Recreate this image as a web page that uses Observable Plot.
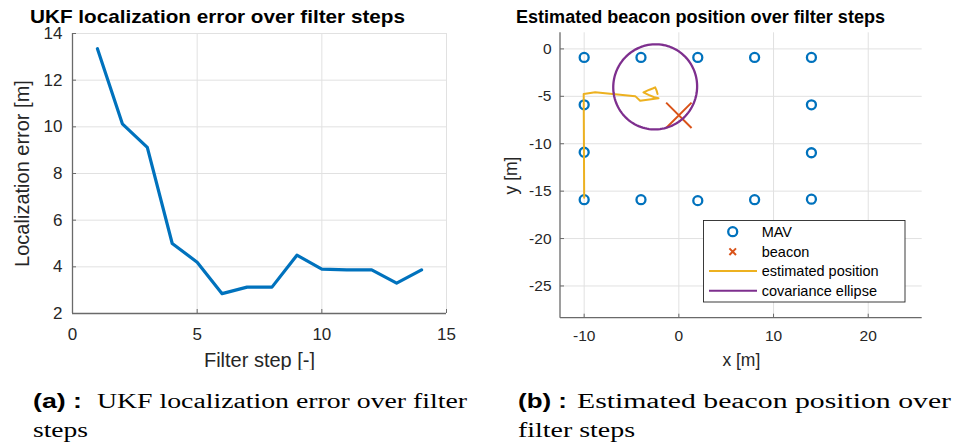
<!DOCTYPE html>
<html>
<head>
<meta charset="utf-8">
<script src="https://cdn.jsdelivr.net/npm/d3@7"></script>
<script src="https://cdn.jsdelivr.net/npm/@observablehq/plot@0.6"></script>
<style>
  html, body { margin: 0; padding: 0; background: #fff; }
  #wrap { position: relative; width: 953px; height: 447px; overflow: hidden; background: #fff; }
  #left, #right, #overlay { position: absolute; top: 0; }
  #left { left: 0; }
  #right { left: 480px; }
  #overlay { left: 0; pointer-events: none; }
</style>
</head>
<body>
<div id="wrap">
  <div id="left"></div>
  <div id="right"></div>
  <svg id="overlay" width="953" height="447"></svg>
</div>
<script>
// ---------- data: panel (a) ----------
const steps = [1, 2, 3, 4, 5, 6, 7, 8, 9, 10, 11, 12, 13, 14];
const errors = [13.35, 10.13, 9.12, 5.0, 4.2, 2.85, 3.13, 3.13, 4.5, 3.9, 3.87, 3.87, 3.3, 3.87];
const xTicksA = [0, 5, 10, 15];
const yTicksA = [2, 4, 6, 8, 10, 12, 14];

// ---------- data: panel (b) ----------
const mavX = [-10, -4, 2, 8, 14, -10, 14, -10, 14, -10, -4, 2, 8, 14];
const mavY = [-0.9, -0.9, -0.9, -0.9, -0.9, -5.9, -5.9, -10.9, -10.95, -15.9, -15.9, -16.0, -15.9, -15.85];
const beaconX = [0];
const beaconY = [-7];
const estX = [-10, -10.05, -8.84, -4.61, -4.09, -2.15, -2.6, -3.2, -3.74, -3.1, -2.7, -2.5, -2.35, -2.25];
const estY = [-15.7, -4.75, -4.58, -4.98, -5.46, -5.21, -5.1, -4.85, -4.58, -4.3, -4.15, -4.05, -4.4, -4.75];
// covariance ellipse parameters
const ellCenter = [-2.5, -4.0];
const ellSemiAxes = [4.5, 4.42];
const ellAngleDeg = 70;
const xTicksB = [-10, 0, 10, 20];
const yTicksB = [0, -5, -10, -15, -20, -25];
const legendLabels = ["MAV", "beacon", "estimated position", "covariance ellipse"];

// colours
const C_BLUE = "#0072BD", C_ORANGE = "#D95319", C_YELLOW = "#EDB120", C_PURPLE = "#7E2F8E";
const AXIS = "#6a6a6a", GRID = "#e1e1e1", TXT = "#262626";

// ---------- panel (a) ----------
const dataA = steps.map((s, i) => ({step: s, err: errors[i]}));
const plotA = Plot.plot({
  width: 470, height: 370,
  marginLeft: 72, marginRight: 24, marginTop: 33, marginBottom: 57,
  style: {fontFamily: "'Liberation Sans', Arial, sans-serif", fontSize: "17px", color: TXT, background: "transparent"},
  x: {domain: [0, 15]},
  y: {domain: [2, 14]},
  marks: [
    Plot.gridX(xTicksA, {stroke: GRID, strokeOpacity: 1, strokeWidth: 1}),
    Plot.gridY(yTicksA, {stroke: GRID, strokeOpacity: 1, strokeWidth: 1}),
    Plot.ruleX([xTicksA[0]], {stroke: AXIS, strokeWidth: 1.3}),
    Plot.ruleY([yTicksA[0]], {stroke: AXIS, strokeWidth: 1.3}),
    Plot.axisX(xTicksA, {tickSize: -4, tickPadding: 18, stroke: AXIS, fill: TXT, label: "Filter step [-]", labelAnchor: "center", labelOffset: 53, labelArrow: "none"}),
    Plot.axisY(yTicksA, {tickSize: -4, tickPadding: 14, stroke: AXIS, fill: TXT, label: "Localization error [m]", labelAnchor: "center", labelOffset: 58, labelArrow: "none"}),
    Plot.line(dataA, {x: "step", y: "err", stroke: C_BLUE, strokeWidth: 3.2, strokeLinejoin: "round"})
  ]
});
document.getElementById("left").append(plotA);

// ---------- panel (b) ----------
const mavData = mavX.map((x, i) => ({x, y: mavY[i]}));
const beaconData = beaconX.map((x, i) => ({x, y: beaconY[i]}));
const estData = estX.map((x, i) => ({x, y: estY[i]}));
const th = ellAngleDeg * Math.PI / 180;
const ellData = d3.range(0, 121).map(k => {
  const t = 2 * Math.PI * k / 120;
  const u = ellSemiAxes[0] * Math.cos(t), v = ellSemiAxes[1] * Math.sin(t);
  return {x: ellCenter[0] + u * Math.cos(th) - v * Math.sin(th), y: ellCenter[1] + u * Math.sin(th) + v * Math.cos(th)};
});
const fmt = d => String(d);
const plotB = Plot.plot({
  width: 473, height: 370,
  marginLeft: 80, marginRight: 31.3, marginTop: 32.3, marginBottom: 52.3,
  style: {fontFamily: "'Liberation Sans', Arial, sans-serif", fontSize: "15.5px", color: TXT, background: "transparent"},
  x: {domain: [-12.5, 25.7]},
  y: {domain: [-28.4, 1.7]},
  marks: [
    Plot.gridX(xTicksB, {stroke: GRID, strokeOpacity: 1, strokeWidth: 1}),
    Plot.gridY(yTicksB, {stroke: GRID, strokeOpacity: 1, strokeWidth: 1}),
    Plot.axisX(xTicksB, {tickSize: -4, tickPadding: 16, stroke: AXIS, fill: TXT, tickFormat: fmt, label: "x [m]", labelAnchor: "center", labelOffset: 48, labelArrow: "none"}),
    Plot.axisY(yTicksB, {tickSize: -4, tickPadding: 13, stroke: AXIS, fill: TXT, tickFormat: fmt, label: "y [m]", labelAnchor: "center", labelOffset: 56, labelArrow: "none"}),
    Plot.dot(mavData, {x: "x", y: "y", r: 4.5, stroke: C_BLUE, strokeWidth: 2.3, fill: "none"}),
    Plot.dot(beaconData, {x: "x", y: "y", symbol: "times", r: 11.6, stroke: C_ORANGE, strokeWidth: 2}),
    Plot.line(estData, {x: "x", y: "y", stroke: C_YELLOW, strokeWidth: 2, strokeLinejoin: "round"}),
    Plot.line(ellData, {x: "x", y: "y", stroke: C_PURPLE, strokeWidth: 2.3, curve: "linear"})
  ]
});
document.getElementById("right").append(plotB);

// axis lines of panel (b): left and bottom edges of the frame
{
  const svg = d3.select(plotB);
  const xs = plotB.scale("x"), ys = plotB.scale("y");
  const x0 = xs.apply(-12.5), x1 = xs.apply(25.7), y0 = ys.apply(-28.4), y1 = ys.apply(1.7);
  svg.append("line").attr("x1", x0).attr("x2", x0).attr("y1", y1).attr("y2", y0).attr("stroke", AXIS).attr("stroke-width", 1.3);
  svg.append("line").attr("x1", x0).attr("x2", x1).attr("y1", y0).attr("y2", y0).attr("stroke", AXIS).attr("stroke-width", 1.3);
}
// label font sizes
d3.select(plotA).selectAll('[aria-label="x-axis label"] text, [aria-label="y-axis label"] text').attr("font-size", 20);
d3.select(plotB).selectAll('[aria-label="x-axis label"] text, [aria-label="y-axis label"] text').attr("font-size", 17.5);

// ---------- overlay: titles, legend, captions ----------
const ov = d3.select("#overlay");
const sans = "'Liberation Sans', Arial, sans-serif";
const serif = "'Liberation Serif', 'Times New Roman', serif";
function txt(x, y, s, opts) {
  const t = ov.append("text").attr("x", x).attr("y", y).text(s)
    .attr("font-family", opts.family || sans).attr("font-size", opts.size)
    .attr("font-weight", opts.weight || "normal").attr("fill", opts.fill || "#000");
  if (opts.len) t.attr("textLength", opts.len).attr("lengthAdjust", "spacingAndGlyphs");
  return t;
}
txt(30, 22.5, "UKF localization error over filter steps", {size: 19, weight: "bold", len: 375});
txt(516, 23, "Estimated beacon position over filter steps", {size: 17.5, weight: "bold", len: 369});

// legend
const lg = ov.append("g");
lg.append("rect").attr("x", 703.5).attr("y", 220.5).attr("width", 201.5).attr("height", 81.5)
  .attr("fill", "#fff").attr("stroke", "#262626").attr("stroke-width", 0.9);
const rowsY = [231.7, 251.7, 271, 290.7];
lg.append("circle").attr("cx", 732.7).attr("cy", rowsY[0]).attr("r", 4.5).attr("fill", "none").attr("stroke", C_BLUE).attr("stroke-width", 2.3);
lg.append("path").attr("d", `M${732.7-3.3},${rowsY[1]-3.3}L${732.7+3.3},${rowsY[1]+3.3}M${732.7-3.3},${rowsY[1]+3.3}L${732.7+3.3},${rowsY[1]-3.3}`)
  .attr("stroke", C_ORANGE).attr("stroke-width", 2);
lg.append("line").attr("x1", 709).attr("x2", 757).attr("y1", rowsY[2]).attr("y2", rowsY[2]).attr("stroke", C_YELLOW).attr("stroke-width", 2);
lg.append("line").attr("x1", 709).attr("x2", 757).attr("y1", rowsY[3]).attr("y2", rowsY[3]).attr("stroke", C_PURPLE).attr("stroke-width", 2);
legendLabels.forEach((s, i) => {
  ov.append("text").attr("x", 761.7).attr("y", rowsY[i] + 5.2).text(s)
    .attr("font-family", sans).attr("font-size", 14.5).attr("fill", "#000");
});

// captions
txt(33, 408, "(a) :", {size: 20, weight: "bold", len: 49});
txt(97, 408, "UKF localization error over filter", {size: 20.5, family: serif, len: 370});
txt(33, 437, "steps", {size: 20.5, family: serif, len: 55});
txt(518, 408, "(b) :", {size: 20, weight: "bold", len: 49});
txt(577, 408, "Estimated beacon position over", {size: 20.5, family: serif, len: 374});
txt(518, 437, "filter steps", {size: 20.5, family: serif, len: 117});
</script>
</body>
</html>
